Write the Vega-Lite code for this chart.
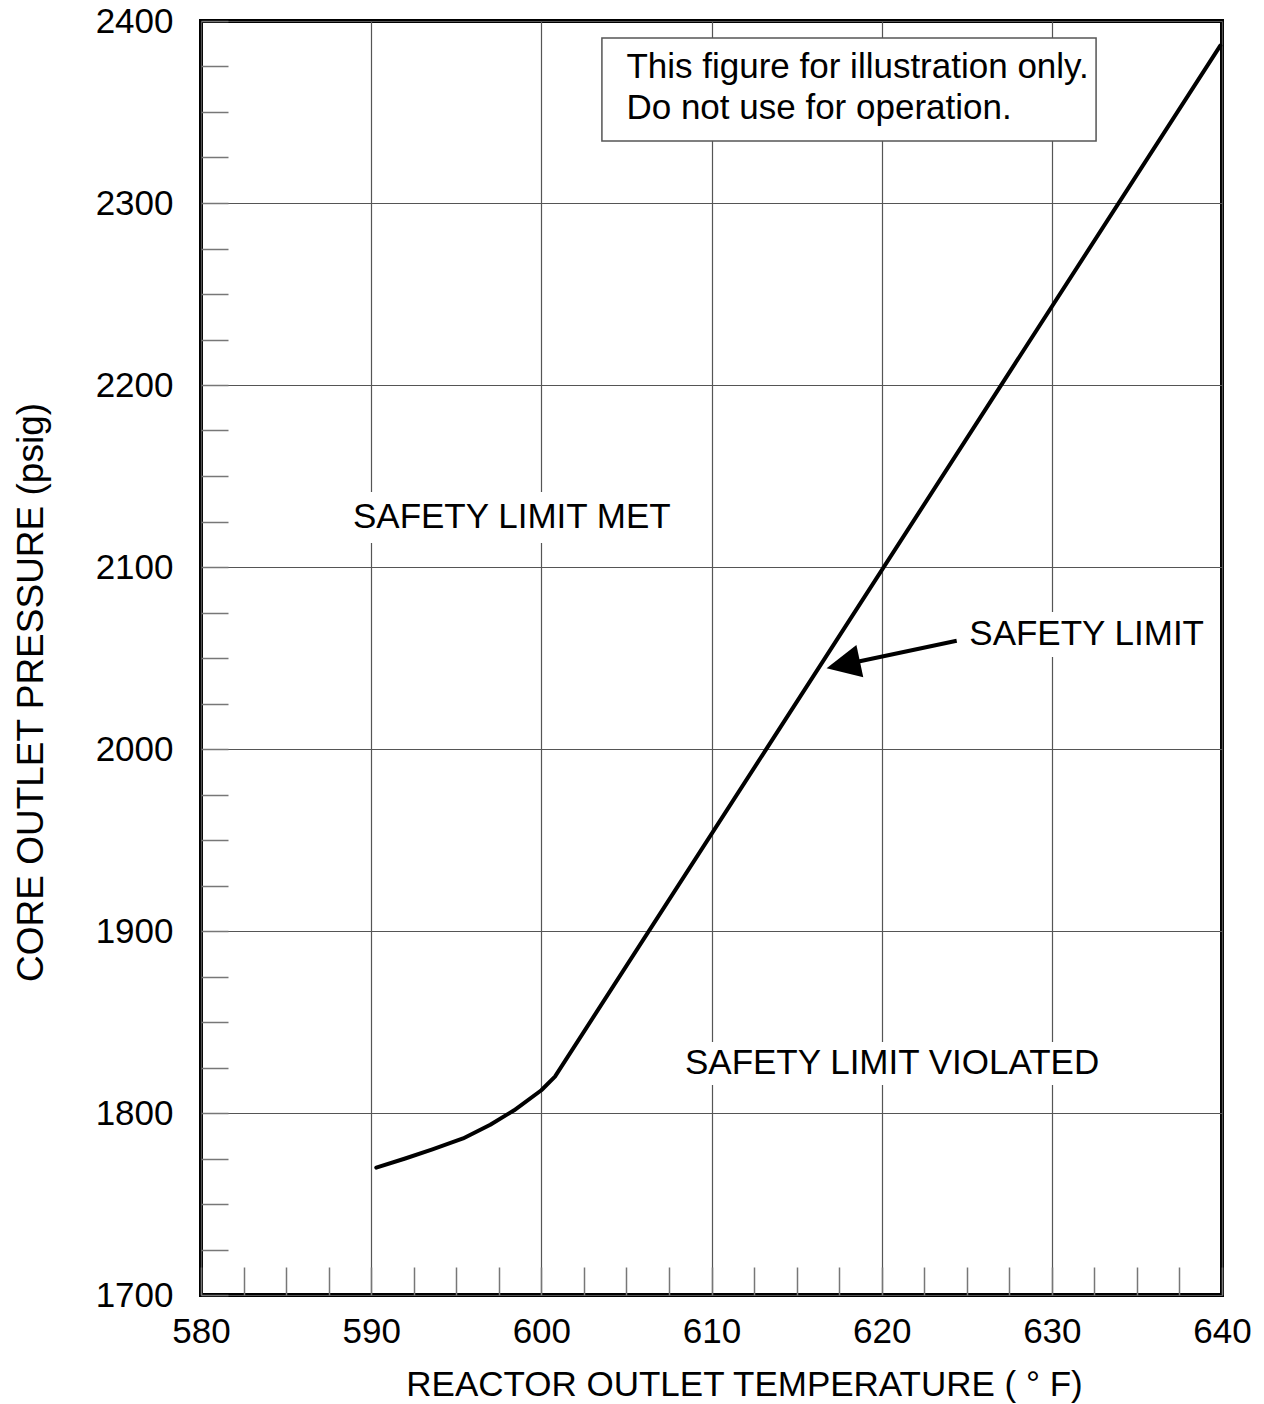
{
  "$schema": "https://vega.github.io/schema/vega-lite/v6.json",
  "width": 1021,
  "height": 1274,
  "padding": {"left": 201, "top": 21, "right": 42, "bottom": 109},
  "autosize": {"type": "none"},
  "background": "white",
  "config": {
    "font": "Liberation Sans",
    "view": {"stroke": "black", "strokeWidth": 4},
    "axis": {
      "domain": false,
      "labelFont": "Liberation Sans",
      "labelFontSize": 35,
      "labelColor": "black",
      "titleFont": "Liberation Sans",
      "titleFontWeight": "normal",
      "titleColor": "black",
      "tickColor": "#777777",
      "tickWidth": 1.5,
      "gridColor": "#555555",
      "gridWidth": 1.2,
      "labelOverlap": false,
      "labelFlush": false,
      "labelBound": false
    }
  },
  "datasets": {
    "curve": [
      {"temperature": 590.3, "pressure": 1770},
      {"temperature": 592.0, "pressure": 1775},
      {"temperature": 593.6, "pressure": 1780},
      {"temperature": 595.4, "pressure": 1786},
      {"temperature": 597.0, "pressure": 1793.5},
      {"temperature": 598.4, "pressure": 1801.5},
      {"temperature": 600.0, "pressure": 1812.5},
      {"temperature": 600.8, "pressure": 1820},
      {"temperature": 639.9, "pressure": 2386.5}
    ],
    "textBackgrounds": [
      {"temperature": 588.46, "temperature2": 608.15, "pressure": 2141.2, "pressure2": 2113.2},
      {"temperature": 624.72, "temperature2": 639.41, "pressure": 2075.3, "pressure2": 2050.5},
      {"temperature": 607.97, "temperature2": 633.42, "pressure": 1839.0, "pressure2": 1815.4}
    ],
    "noteBox": [
      {"temperature": 603.56, "temperature2": 632.6, "pressure": 2390.66, "pressure2": 2334.07}
    ],
    "noteText": [
      {"temperature": 605.0, "pressure": 2368.5, "label": ["This figure for illustration only.", "Do not use for operation."]}
    ],
    "regionLabels": [
      {"temperature": 588.93, "pressure": 2121.5, "label": "SAFETY LIMIT MET"},
      {"temperature": 625.15, "pressure": 2057.1, "label": "SAFETY LIMIT"},
      {"temperature": 608.44, "pressure": 1821.4, "label": "SAFETY LIMIT VIOLATED"}
    ],
    "arrowShaft": [
      {"temperature": 624.41, "temperature2": 617.74, "pressure": 2059.5, "pressure2": 2046.3}
    ],
    "arrowHead": [
      {"temperature": 617.74, "pressure": 2046.3}
    ]
  },
  "encoding": {
    "x": {
      "field": "temperature",
      "type": "quantitative",
      "scale": {"domain": [580, 640], "nice": false, "zero": false},
      "axis": {
        "title": "REACTOR OUTLET TEMPERATURE ( ° F)",
        "titleFontSize": 35,
        "titleX": 543,
        "titleY": 100,
        "titleBaseline": "alphabetic",
        "titleAlign": "center",
        "values": [580, 582.5, 585, 587.5, 590, 592.5, 595, 597.5, 600, 602.5, 605, 607.5, 610, 612.5, 615, 617.5, 620, 622.5, 625, 627.5, 630, 632.5, 635, 637.5, 640],
        "labelExpr": "datum.value % 10 === 0 ? '' + datum.value : ''",
        "labelBaseline": "alphabetic",
        "labelPadding": 75,
        "tickSize": -28,
        "grid": true,
        "gridOpacity": {"condition": {"test": "datum.value % 10 === 0", "value": 1}, "value": 0}
      }
    },
    "y": {
      "field": "pressure",
      "type": "quantitative",
      "scale": {"domain": [1700, 2400], "nice": false, "zero": false},
      "axis": {
        "title": "CORE OUTLET PRESSURE (psig)",
        "titleFontSize": 37,
        "titleX": -159,
        "titleY": 671,
        "titleBaseline": "alphabetic",
        "titleAlign": "center",
        "titleAngle": 270,
        "values": [1700, 1725, 1750, 1775, 1800, 1825, 1850, 1875, 1900, 1925, 1950, 1975, 2000, 2025, 2050, 2075, 2100, 2125, 2150, 2175, 2200, 2225, 2250, 2275, 2300, 2325, 2350, 2375, 2400],
        "labelExpr": "datum.value % 100 === 0 ? '' + datum.value : ''",
        "labelBaseline": "middle",
        "labelPadding": 55,
        "tickSize": -27,
        "grid": true,
        "gridOpacity": {"condition": {"test": "datum.value % 100 === 0", "value": 1}, "value": 0}
      }
    }
  },
  "layer": [
    {
      "data": {"name": "textBackgrounds"},
      "mark": {"type": "rect", "fill": "white", "strokeWidth": 0},
      "encoding": {"x2": {"field": "temperature2"}, "y2": {"field": "pressure2"}}
    },
    {
      "data": {"name": "noteBox"},
      "mark": {"type": "rect", "fill": "white", "stroke": "#555555", "strokeWidth": 1.5},
      "encoding": {"x2": {"field": "temperature2"}, "y2": {"field": "pressure2"}}
    },
    {
      "data": {"name": "curve"},
      "mark": {"type": "line", "color": "black", "strokeWidth": 4, "strokeCap": "round", "strokeJoin": "round"}
    },
    {
      "data": {"name": "arrowShaft"},
      "mark": {"type": "rule", "color": "black", "strokeWidth": 4},
      "encoding": {"x2": {"field": "temperature2"}, "y2": {"field": "pressure2"}}
    },
    {
      "data": {"name": "arrowHead"},
      "mark": {"type": "point", "shape": "M -1 0 L 1 -0.97 L 1 0.97 Z", "size": 1156, "angle": 348, "filled": true, "color": "black", "opacity": 1, "strokeWidth": 0}
    },
    {
      "data": {"name": "noteText"},
      "mark": {"type": "text", "align": "left", "baseline": "alphabetic", "fontSize": 35, "lineHeight": 41, "color": "black", "font": "Liberation Sans"},
      "encoding": {"text": {"field": "label", "type": "nominal"}}
    },
    {
      "data": {"name": "regionLabels"},
      "mark": {"type": "text", "align": "left", "baseline": "alphabetic", "fontSize": 35, "color": "black", "font": "Liberation Sans"},
      "encoding": {"text": {"field": "label", "type": "nominal"}}
    }
  ]
}
